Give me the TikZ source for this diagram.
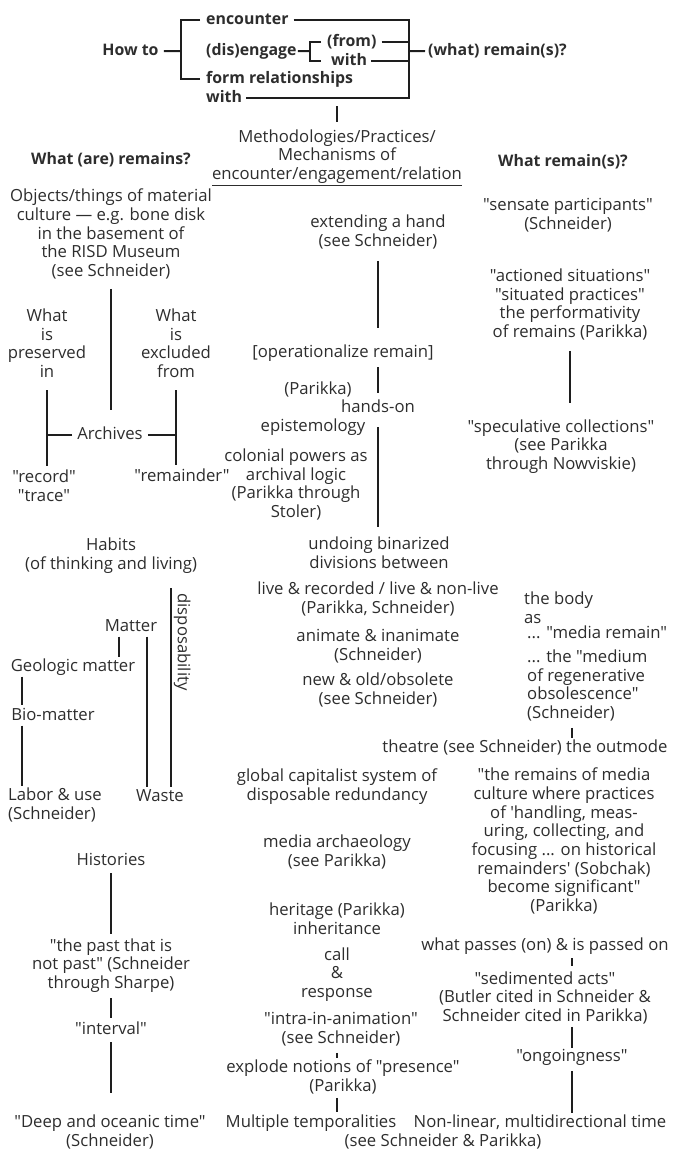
\documentclass[tikz,border=0pt]{standalone}
\usepackage{fontspec}
\setmainfont{Open Sans}[Ligatures=TeXOff]
\usetikzlibrary{positioning,calc}
\definecolor{colortext}{RGB}{45,45,45}
\definecolor{colorline}{RGB}{30,30,30}

\begin{document}
\begin{tikzpicture}[
    x=1pt, y=-1pt,
    font={\fontsize{16.7}{18.7}\selectfont},
    base/.style={text=colortext,inner sep=1pt,anchor=base,align=center},
    txt/.style={base,text height=12.5pt,text depth=4pt},
    blk/.style={base},
    lft/.style={anchor=base west,align=left},
    hd/.style={txt,font={\fontsize{15.9}{18.7}\selectfont\bfseries}},
    link/.style={draw=colorline,line width=2pt},
]
    \useasboundingbox (0,0) rectangle (673,1156);

    % Question bracket
    \node[hd] (howto) at (130.5,55.5) {How to};
    \node[hd,lft] (enc) at (205,24.5) {encounter};
    \node[hd,lft] (dis) at (205,55.5) {(dis)engage};
    \node[hd,lft] (from) at (326,46.5) {(from)};
    \node[hd,lft] (with1) at (330,65.5) {with};
    \node[hd,lft] (form) at (205,83.5) {form relationships};
    \node[hd,lft] (with2) at (205,102.5) {with};
    \node[hd,lft] (what) at (427,55.5) {(what) remain(s)?};
    \coordinate (lb) at (181,51);
    \coordinate (sb) at (310,51);
    \coordinate (rb) at (409,51);
    \coordinate (stub) at (337,106);
    \draw[link,shorten <=4pt] (howto) -- (lb);
    \draw[link] ([xshift=-5pt]enc.west) -| (lb) |- ([xshift=-5pt]form.west);
    \draw[link] (dis.east) -- (sb);
    \draw[link] ([xshift=-5pt]from.west) -| (sb) |- ([xshift=-9pt]with1.west);
    \draw[link] ([xshift=4pt]enc.east) -| (rb) |- ([xshift=3pt]with2.east);
    \draw[link] ([xshift=4pt]from.east) -- (from.east -| rb);
    \draw[link] ([xshift=3pt]with1.east) -- (with1.east -| rb);
    \draw[link] (rb) -- ([xshift=-2pt]what.west);

    % Column heads
    \node[blk] (meth) at (337,179.5) {Methodologies/Practices/\\Mechanisms of\\\underline{encounter/engagement/relation}};
    \node[hd] (lhead) at (111,164.5) {What (are) remains?};
    \node[hd] (rhead) at (563,166.5) {What remain(s)?};
    \draw[link,shorten >=6.6pt] (stub) -- (meth.north);

    % Left column: objects and archives
    \node[blk] (objects) at (111,276.5) {Objects/things of material\\culture — e.g. bone disk\\in the basement of\\the RISD Museum\\(see Schneider)};
    \node[blk] (preserved) at (47,377.5) {What\\is\\preserved\\in};
    \node[blk] (excluded) at (176,377.5) {What\\is\\excluded\\from};
    \node[txt] (archives) at (110,439.5) {Archives};
    \node[blk] (record) at (44,501.5) {"record"\\"trace"};
    \node[txt] (remainder) at (182,481.5) {"remainder"};
    \draw[link,shorten <=8.5pt,shorten >=16pt] (objects.south) -- (objects.south |- archives.north);
    \draw[link,shorten <=11.5pt,shorten >=2.8pt] (preserved.south) -- (preserved.south |- record.north);
    \draw[link,shorten <=11.5pt,shorten >=3pt] (excluded.south) -- (excluded.south |- remainder.north);
    \draw[link,shorten <=4pt] (archives.west) -- (archives.west -| preserved.south);
    \draw[link,shorten <=4pt] (archives.east) -- (archives.east -| excluded.south);

    % Middle column: practices
    \node[blk] (extend) at (378,246.5) {extending a hand\\(see Schneider)};
    \node[txt] (oper) at (343,357.5) {[operationalize remain]};
    \node[txt] (parikka) at (318,394.5) {(Parikka)};
    \node[txt] (hands) at (378,412.5) {hands-on};
    \node[txt] (epist) at (313,431.5) {epistemology};
    \node[blk] (colonial) at (296,517.5) {colonial powers as\\archival logic\\(Parikka through\\Stoler)};
    \node[blk] (undoing) at (379,568.5) {undoing binarized\\divisions between};
    \node[blk] (live) at (378,613.5) {live \& recorded / live \& non-live\\(Parikka, Schneider)};
    \node[blk] (animate) at (378,660.5) {animate \& inanimate\\(Schneider)};
    \node[blk] (new) at (378,704.5) {new \& old/obsolete\\(see Schneider)};
    \node[blk] (global) at (337,800.5) {global capitalist system of\\disposable redundancy};
    \node[blk] (media) at (337,866.5) {media archaeology\\(see Parikka)};
    \node[blk] (heritage) at (337,934.5) {heritage (Parikka)\\inheritance};
    \node[blk] (call) at (337,997.5) {call\\\&\\response};
    \node[blk] (intra) at (341,1043.5) {"intra-in-animation"\\(see Schneider)};
    \node[blk] (explode) at (343,1091.5) {explode notions of "presence"\\(Parikka)};
    \node[txt] (multiple) at (311,1127.5) {Multiple temporalities};
    \node[txt] (seesp) at (443,1146.5) {(see Schneider \& Parikka)};
    \draw[link,shorten <=10.5pt,shorten >=16pt] (extend.south) -- (extend.south |- oper.north);
    \draw[link,shorten <=4.5pt,shorten >=6pt] (hands.north |- oper.south) -- (hands.north);
    \draw[link,shorten <=9.5pt,shorten >=8.8pt] (hands.south) -- (hands.south |- undoing.north);
    \draw[link,shorten <=5.5pt,shorten >=1pt] ([xshift=-4pt]intra.south) -- ([xshift=-4pt]intra.south |- explode.north);
    \draw[link,shorten <=2.5pt,shorten >=2pt] (call.south |- explode.south) -- (call.south |- multiple.north);

    % Right column: what remains
    \node[blk] (sensate) at (568,229.5) {"sensate participants"\\(Schneider)};
    \node[blk] (actioned) at (570,337.5) {"actioned situations"\\"situated practices"\\the performativity\\of remains (Parikka)};
    \node[blk] (spec) at (561,469.5) {"speculative collections"\\(see Parikka\\through Nowviskie)};
    \node[blk,lft] (body) at (523,623.5) {the body\\as};
    \node[txt,lft] (mediarem) at (526,638.5) {... "media remain"};
    \node[blk,lft] (medium) at (526,718.5) {... the "medium\\of regenerative\\obsolescence"\\(Schneider)};
    \node[txt] (theatre) at (525,752.5) {theatre (see Schneider) the outmode};
    \node[blk] (remainsmedia) at (564,911.5) {"the remains of media\\culture where practices\\of 'handling, meas-\\uring, collecting, and\\focusing ... on historical\\remainders' (Sobchak)\\become significant"\\(Parikka)};
    \node[txt] (passes) at (545,950.5) {what passes (on) \& is passed on};
    \node[blk] (sediment) at (545,1021.5) {"sedimented acts"\\(Butler cited in Schneider \&\\Schneider cited in Parikka)};
    \node[txt] (ongoing) at (572,1061.5) {"ongoingness"};
    \node[txt] (nonlinear) at (540,1127.5) {Non-linear, multidirectional time};
    \draw[link,shorten <=9.5pt,shorten >=14.8pt] (actioned.south) -- (actioned.south |- spec.north);
    \draw[link,shorten <=5.5pt,shorten >=1pt] (medium.south -| ongoing) -- (theatre.north -| ongoing);
    \draw[link,shorten <=2.5pt,shorten >=3.8pt] (passes.south -| ongoing) -- (sediment.north -| ongoing);
    \draw[link,shorten <=1.5pt] (sediment.south -| ongoing) -- (ongoing.north);
    \draw[link,shorten <=4.5pt,shorten >=1pt] (ongoing.south) -- (ongoing.south |- nonlinear.north);

    % Left column: habits and matter
    \node[blk] (habits) at (111,569.5) {Habits\\(of thinking and living)};
    \node[txt,anchor=center,rotate=-90] (dispo) at (182,642) {disposability};
    \node[txt] (matter) at (131,631.5) {Matter};
    \node[txt] (geo) at (73,671.5) {Geologic matter};
    \node[txt] (bio) at (53,720.5) {Bio-matter};
    \node[blk,lft] (labor) at (7,819.5) {Labor \& use\\(Schneider)};
    \node[txt] (waste) at (160,801.5) {Waste};
    \coordinate (disptop) at (171,588);
    \draw[link,shorten >=1pt] (disptop) -- (disptop |- waste.north);
    \draw[link,shorten >=1pt] ([xshift=-12pt]matter.south) -- ([xshift=-12pt]matter.south |- geo.north);
    \draw[link,shorten >=2pt] ([xshift=12pt]geo.south west) -- ([xshift=12pt]geo.south west |- bio.north);
    \draw[link,shorten >=1pt] ([xshift=12pt]bio.south west) -- ([xshift=12pt]bio.south west |- labor.north);
    \draw[link,shorten >=1pt] ([xshift=16pt]matter.south) -- ([xshift=16pt]matter.south |- waste.north);

    % Left column: histories
    \node[txt] (histories) at (111,865.5) {Histories};
    \node[blk] (past) at (111,988.5) {"the past that is\\not past" (Schneider\\through Sharpe)};
    \node[txt] (interval) at (111,1034.5) {"interval"};
    \node[blk] (deep) at (110,1146.5) {"Deep and oceanic time"\\(Schneider)};
    \draw[link,shorten <=2.5pt,shorten >=3pt] (histories.south) -- (histories.south |- past.north);
    \draw[link,shorten <=4.5pt,shorten >=3pt] (past.south) -- (past.south |- interval.north);
    \draw[link,shorten <=2.5pt,shorten >=21pt] (interval.south) -- (interval.south |- deep.north);

\end{tikzpicture}
\end{document}
